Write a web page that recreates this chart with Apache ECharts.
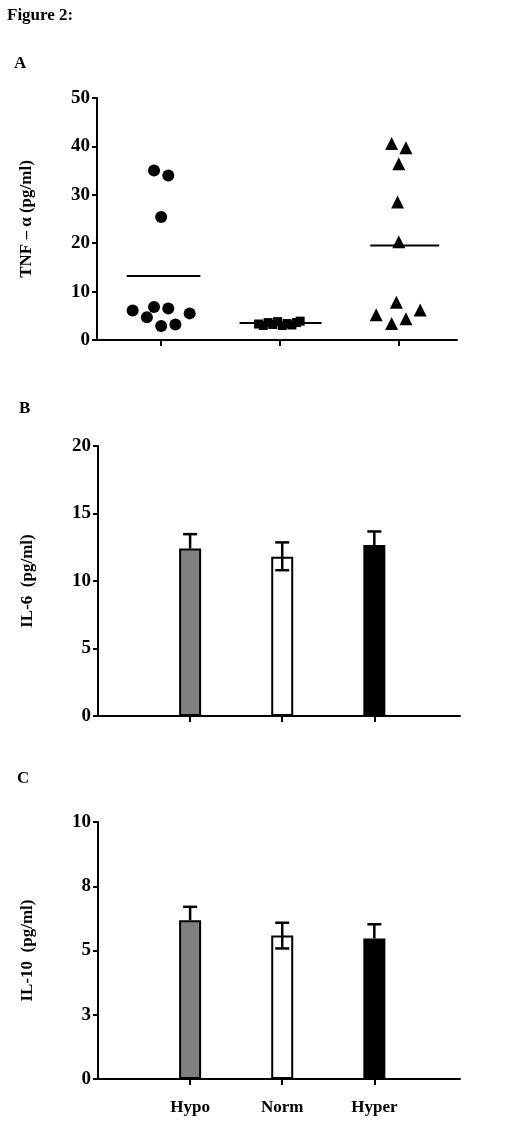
<!DOCTYPE html>
<html><head><meta charset="utf-8">
<script src="https://cdn.jsdelivr.net/npm/echarts@6/dist/echarts.min.js"></script>
<style>body{margin:0;background:#fff}#c{width:531px;height:1130px}</style>
</head><body><div id="c"></div>
<script>
const categories = ['Hypo','Norm','Hyper'];
// Panel A: TNF-alpha individual points [x position, value]
const tnfHypo = [[0.76,6.1],[0.88,4.7],[0.94,6.8],[0.94,35.0],[1.0,25.4],[1.0,2.9],[1.06,34.0],[1.06,6.5],[1.12,3.2],[1.24,5.5]];
const tnfNorm = [[1.82,3.3],[1.86,3.0],[1.9,3.6],[1.94,3.2],[1.98,3.8],[2.02,3.0],[2.06,3.4],[2.1,3.1],[2.14,3.6],[2.17,3.9]];
const tnfHyper = [[2.81,5.2],[2.94,3.4],[2.98,7.8],[3.06,4.4],[3.18,6.2],[3.0,20.3],[2.99,28.5],[3.0,36.4],[2.94,40.6],[3.06,39.7]];
const tnfMeans = [13.2,3.5,19.5];
const tnfMeanSpan = [[0.71,1.33],[1.66,2.35],[2.76,3.34]];
// Panel B: IL-6
const il6Mean = [12.41,11.79,12.66];
const il6High = [13.47,12.86,13.67];
const il6Low = [12.41,10.8,12.66];
// Panel C: IL-10
const il10Mean = [6.18,5.58,5.47];
const il10High = [6.70,6.08,6.02];
const il10Low = [6.18,5.08,5.47];
const barColors = ['#808080','#ffffff','#000000'];

const F = 'Liberation Serif';
const ax = {lineStyle:{color:'#000',width:2}};
function yAx(min,max,interval,name,fmt){
  return {type:'value',min,max,interval,name,nameLocation:'middle',nameGap:62,
    nameTextStyle:{fontFamily:F,fontWeight:'bold',fontSize:17,color:'#000'},
    axisLine:{show:true,...ax},axisTick:{show:true,length:5,lineStyle:{color:'#000',width:2}},
    splitLine:{show:false},
    axisLabel:{fontFamily:F,fontWeight:'bold',fontSize:19,color:'#000',margin:7,formatter:fmt||(v=>v)}};
}
function xAx(gi,min,max,labels){
  return {type:'value',gridIndex:gi,min,max,
    axisLine:{show:true,onZero:false,...ax},
    axisTick:{show:true,length:6,customValues:[1,2,3],lineStyle:{color:'#000',width:2}},
    splitLine:{show:false},
    axisLabel:{show:labels,customValues:[1,2,3],formatter:v=>categories[v-1],
      fontFamily:F,fontWeight:'bold',fontSize:17,color:'#000',margin:20}};
}
function errSeries(gi,hi,lo){
  return {type:'custom',xAxisIndex:gi,yAxisIndex:gi,z:5,
    data:hi.map((h,i)=>[i+1,h,lo[i]]),
    renderItem:(p,api)=>{
      const t=api.coord([api.value(0),api.value(1)]);
      const b=api.coord([api.value(0),api.value(2)]);
      const st={stroke:'#000',lineWidth:2.5};
      const ch=[{type:'line',shape:{x1:t[0],y1:t[1],x2:b[0],y2:b[1]},style:st},
        {type:'line',shape:{x1:t[0]-7,y1:t[1],x2:t[0]+7,y2:t[1]},style:st}];
      if(api.value(2)<api.value(1)-0.01 && b[1]-t[1]>1 && api.value(0)===2)
        ch.push({type:'line',shape:{x1:b[0]-7,y1:b[1],x2:b[0]+7,y2:b[1]},style:st});
      return {type:'group',children:ch};
    }};
}
function bars(gi,vals){
  return {type:'bar',xAxisIndex:gi,yAxisIndex:gi,barWidth:22,z:2,
    data:vals.map((v,i)=>({value:[i+1,v],itemStyle:{color:barColors[i],borderColor:'#000',borderWidth:2}}))};
}
const sc={color:'#000',opacity:1};
const series=[
  {type:'scatter',xAxisIndex:0,yAxisIndex:0,symbol:'circle',symbolSize:12,itemStyle:sc,data:tnfHypo},
  {type:'scatter',xAxisIndex:0,yAxisIndex:0,symbol:'rect',symbolSize:9,itemStyle:sc,data:tnfNorm},
  {type:'scatter',xAxisIndex:0,yAxisIndex:0,symbol:'triangle',symbolSize:13,itemStyle:sc,data:tnfHyper},
];
tnfMeans.forEach((m,i)=>series.push({type:'line',xAxisIndex:0,yAxisIndex:0,symbol:'none',
  lineStyle:{color:'#000',width:2},data:[[tnfMeanSpan[i][0],m],[tnfMeanSpan[i][1],m]]}));
series.push(bars(1,il6Mean),errSeries(1,il6High,il6Low),bars(2,il10Mean),errSeries(2,il10High,il10Low));

const chart=echarts.init(document.getElementById('c'),null,{renderer:'canvas'});
const T=(t,l,tp,fs)=>({text:t,left:l,top:tp,textStyle:{fontFamily:F,fontWeight:'bold',fontSize:fs,color:'#000'}});
chart.setOption({
  backgroundColor:'#fff',animation:false,
  title:[T('Figure 2:',2,2,17),T('A',9,50,17),T('B',14,395,17),T('C',12,765,17)],
  grid:[{left:97,top:98,width:360,height:242},{left:98,top:446,width:362,height:270},{left:98,top:822,width:362,height:257}],
  xAxis:[xAx(0,0.46,3.49,false),xAx(1,0,3.93,false),xAx(2,0,3.93,true)],
  yAxis:[{...yAx(0,50,10,'TNF – α (pg/ml)'),gridIndex:0},
    {...yAx(0,20,5,'IL-6  (pg/ml)'),gridIndex:1},
    {...yAx(0,10,2.5,'IL-10  (pg/ml)',v=>Math.round(v)),gridIndex:2}],
  series
});
</script></body></html>
